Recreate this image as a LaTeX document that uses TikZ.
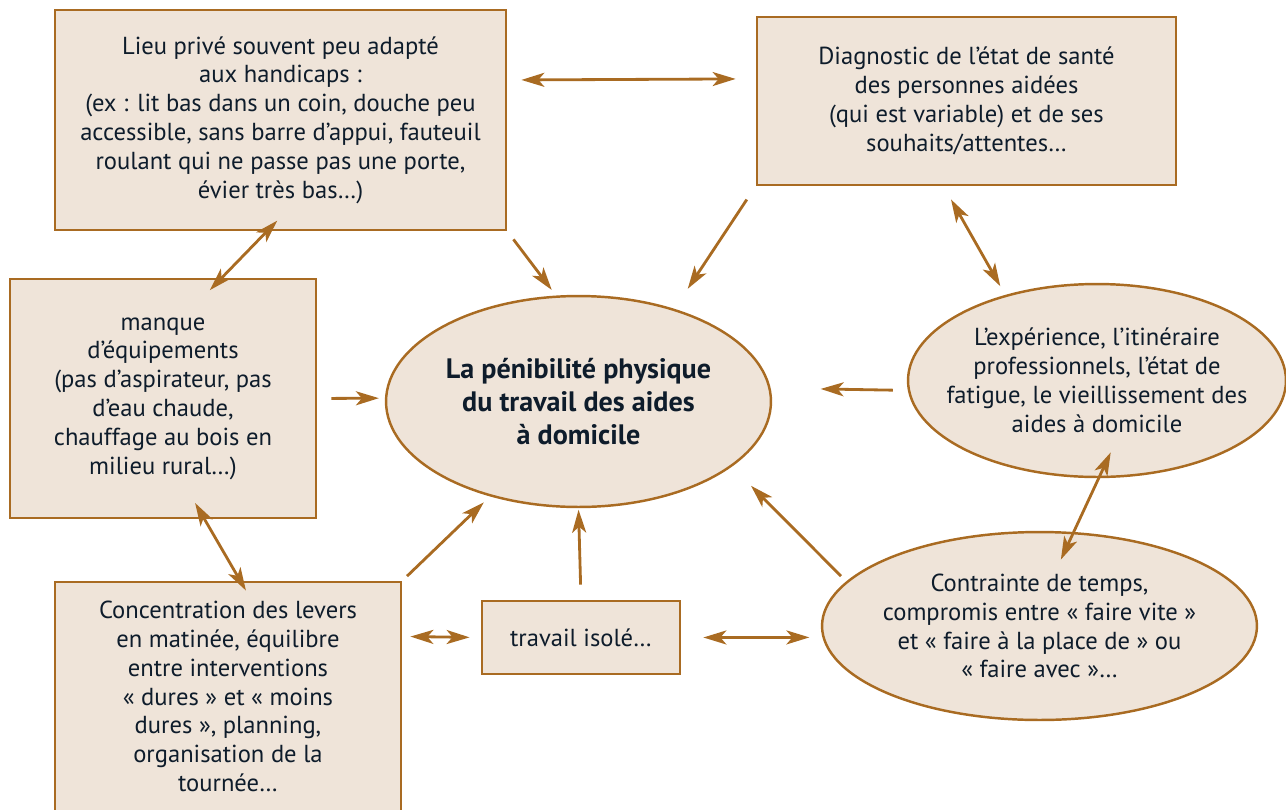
\documentclass[tikz,border=0pt]{standalone}
\usepackage{fontspec}
\setmainfont{PT Sans}
\usetikzlibrary{shapes.geometric,arrows.meta}
\definecolor{brun}{HTML}{A96B22}
\definecolor{beige}{HTML}{EFE4D9}
\definecolor{encre}{HTML}{0E1C2B}

\begin{document}
\begin{tikzpicture}[x=0.02cm,y=-0.02cm,
  boite/.style={draw=brun,fill=beige,line width=1.6pt,text=encre,align=center,inner sep=0pt,font=\fontsize{14}{16.4}\selectfont},
  bulle/.style={boite,ellipse,line width=1.4pt},
  fl/.style={draw=brun,line width=1.6pt,-{Stealth[length=0.46cm,width=0.28cm,inset=0.12cm]}},
  dfl/.style={fl,{Stealth[length=0.46cm,width=0.28cm,inset=0.12cm]}-{Stealth[length=0.46cm,width=0.28cm,inset=0.12cm]}}]
\useasboundingbox (0,0) rectangle (1286,809);

\node[boite,minimum width=9.02cm,minimum height=4.4cm] (lieu) at (280.5,120) {Lieu privé souvent peu adapté\\aux handicaps :\\(ex : lit bas dans un coin, douche peu\\accessible, sans barre d’appui, fauteuil\\roulant qui ne passe pas une porte,\\évier très bas…)};
\node[boite,minimum width=8.38cm,minimum height=3.36cm] (diag) at (966.5,101) {Diagnostic de l’état de santé\\des personnes aidées\\(qui est variable) et de ses\\souhaits/attentes…};
\node[boite,minimum width=6.12cm,minimum height=4.78cm] (manque) at (163,398.5) {manque\\d’équipements\\(pas d’aspirateur, pas\\d’eau chaude,\\chauffage au bois en\\milieu rural…)};
\node[boite,minimum width=6.92cm,minimum height=4.58cm] (conc) at (228,696.5) {Concentration des levers\\en matinée, équilibre\\entre interventions\\«~dures~» et «~moins\\dures~», planning,\\organisation de la\\tournée…};
\node[boite,minimum width=3.96cm,minimum height=1.46cm] (isole) at (581,637.5) {travail isolé…};

\node[bulle,minimum width=7.7cm,minimum height=4.22cm,font=\fontsize{16}{18.8}\selectfont\bfseries] (peni) at (578.5,401.5) {La pénibilité physique\\du travail des aides\\à domicile};
\node[bulle,inner xsep=-11pt,minimum width=7.56cm,minimum height=3.86cm] (exp) at (1097,380.5) {L’expérience, l’itinéraire\\professionnels, l’état de\\fatigue, le vieillissement des\\aides à domicile};
\node[bulle,inner xsep=-8pt,minimum width=8.7cm,minimum height=3.76cm] (temps) at (1039.5,626) {Contrainte de temps,\\compromis entre «~faire vite~»\\et «~faire à la place de~» ou\\«~faire avec~»…};

\draw[dfl,shorten <=0.28cm,shorten >=0.4cm] (lieu.10) -- (diag.174);
\draw[fl,shorten <=0.2cm,shorten >=0.14cm] (lieu.south east) -- (peni.102);
\draw[fl,shorten <=0.32cm,shorten >=0.48cm] (diag.202) -- (peni.44);
\draw[dfl,shorten <=0.3cm,shorten >=0.2cm] (diag.255) -- (exp.137);
\draw[dfl,shorten <=-0.3cm,shorten >=-0.35cm] (lieu.263) -- (manque.64);
\draw[fl,shorten <=0.28cm,shorten >=0.12cm] (manque.east) -- (peni.179);
\draw[fl,shorten <=0.3cm,shorten >=1cm] (exp.183) -- (peni.4);
\draw[dfl,shorten <=-0.38cm,shorten >=-0.23cm] (manque.289) -- (conc.84);
\draw[fl,shorten <=0.13cm,shorten >=0.17cm] (conc.north east) -- (peni.227);
\draw[fl,shorten <=0.3cm,shorten >=0.03cm] (isole.north) -- (peni.south);
\draw[fl,shorten <=0.15cm,shorten >=0.54cm] (temps.167) -- (peni.337);
\draw[dfl,shorten <=-0.57cm,shorten >=-0.61cm] (exp.271) -- (temps.70);
\draw[dfl,shorten <=0.16cm,shorten >=0.22cm] (conc.19) -- (isole.west);
\draw[dfl,shorten <=0.44cm,shorten >=0.26cm] (isole.east) -- (temps.183);

\end{tikzpicture}
\end{document}
